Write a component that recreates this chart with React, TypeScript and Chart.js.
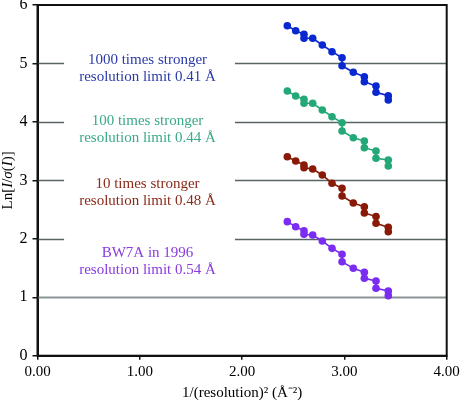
import React, { useEffect, useRef } from "react";
import { Chart, registerables } from "chart.js";

Chart.register(...registerables);

const xVals = [2.442, 2.524, 2.605, 2.605, 2.69, 2.784, 2.879, 2.977, 2.977, 3.087, 3.195, 3.195, 3.309, 3.309, 3.429, 3.429];
const blueVals = [5.646, 5.56, 5.499, 5.43, 5.43, 5.316, 5.201, 5.098, 4.961, 4.849, 4.773, 4.688, 4.614, 4.506, 4.448, 4.375];
const greenVals = [4.529, 4.443, 4.387, 4.318, 4.318, 4.204, 4.089, 3.986, 3.844, 3.73, 3.673, 3.559, 3.502, 3.377, 3.348, 3.245];
const redVals = [3.405, 3.331, 3.263, 3.216, 3.194, 3.092, 2.95, 2.864, 2.732, 2.612, 2.549, 2.441, 2.381, 2.265, 2.197, 2.121];
const purpleVals = [2.293, 2.207, 2.139, 2.077, 2.065, 1.962, 1.837, 1.735, 1.608, 1.495, 1.427, 1.324, 1.278, 1.153, 1.107, 1.027];

const seriesNames = ["1000 times stronger", "100 times stronger", "10 times stronger", "BW7A in 1996"];
const seriesLimits = ["resolution limit 0.41 Å", "resolution limit 0.44 Å", "resolution limit 0.48 Å", "resolution limit 0.54 Å"];
const seriesColors = ["#0a28d0", "#25a878", "#8a1a08", "#7a2cf0"];
const textColors = ["#2a3aa8", "#3aa88a", "#8a2a1a", "#8a3ae0"];
const xTicks = [0, 1, 2, 3, 4];
const yTicks = [0, 1, 2, 3, 4, 5, 6];
const xTitle = "1/(resolution)² (Å⁻²)";

const FONT = "'Liberation Serif', 'Times New Roman', serif";

export default function App() {
  const ref = useRef<HTMLCanvasElement | null>(null);
  useEffect(() => {
    document.body.style.margin = "0";
    const canvas = ref.current!;
    const allVals = [blueVals, greenVals, redVals, purpleVals];

    const overlay = {
      id: "overlay",
      beforeDatasetsDraw(chart: any) {
        const ctx = chart.ctx;
        const xs = chart.scales.x;
        const ys = chart.scales.y;
        const ca = chart.chartArea;
        ctx.save();
        const gapL = xs.getPixelForValue(0.26);
        const gapR = xs.getPixelForValue(1.93);
        [5, 4, 3, 2].forEach((v) => {
          const y = Math.round(ys.getPixelForValue(v)) + 0.5;
          ctx.strokeStyle = "#5a6464";
          ctx.lineWidth = 1.5;
          ctx.beginPath();
          ctx.moveTo(ca.left, y);
          ctx.lineTo(gapL, y);
          ctx.moveTo(gapR, y);
          ctx.lineTo(ca.right, y);
          ctx.stroke();
        });
        const y1 = Math.round(ys.getPixelForValue(1)) + 0.5;
        ctx.strokeStyle = "#8a9494";
        ctx.lineWidth = 2;
        ctx.beginPath();
        ctx.moveTo(ca.left, y1);
        ctx.lineTo(ca.right, y1);
        ctx.stroke();
        ctx.restore();
      },
      afterDraw(chart: any) {
        const ctx = chart.ctx;
        const xs = chart.scales.x;
        const ys = chart.scales.y;
        const ca = chart.chartArea;
        ctx.save();
        ctx.strokeStyle = "#111";
        ctx.lineWidth = 2;
        ctx.strokeRect(ca.left, ca.top, ca.right - ca.left, ca.bottom - ca.top);
        const cx = xs.getPixelForValue(1.075);
        const nameY = [5.05, 4.02, 2.94, 1.76];
        ctx.font = `15px ${FONT}`;
        ctx.textAlign = "center";
        ctx.textBaseline = "middle";
        for (let i = 0; i < 4; i++) {
          const y = ys.getPixelForValue(nameY[i]);
          ctx.fillStyle = textColors[i];
          ctx.fillText(seriesNames[i], cx, y);
          ctx.fillText(seriesLimits[i], cx, y + 17);
        }
        ctx.fillStyle = "#000";
        ctx.font = `15px ${FONT}`;
        ctx.fillText(xTitle, (ca.left + ca.right) / 2, 393);
        const parts: [string, boolean][] = [["Ln[", false], ["I", true], ["/", false], ["σ", true], ["(", false], ["I", true], [")]", false]];
        let total = 0;
        const widths = parts.map(([t, it]) => {
          ctx.font = `${it ? "italic " : ""}15px ${FONT}`;
          const w = ctx.measureText(t).width;
          total += w;
          return w;
        });
        ctx.translate(8, (ca.top + ca.bottom) / 2);
        ctx.rotate(-Math.PI / 2);
        ctx.textAlign = "left";
        let px = -total / 2;
        parts.forEach(([t, it], i) => {
          ctx.font = `${it ? "italic " : ""}15px ${FONT}`;
          ctx.fillText(t, px, 0);
          px += widths[i];
        });
        ctx.restore();
      },
    };

    const chart = new Chart(canvas, {
      type: "scatter",
      data: {
        datasets: allVals.map((vals, i) => ({
          label: seriesNames[i],
          data: xVals.map((x, j) => ({ x, y: vals[j] })),
          showLine: true,
          borderColor: seriesColors[i],
          backgroundColor: seriesColors[i],
          borderWidth: 1.6,
          pointRadius: 3.8,
          pointBorderWidth: 0,
        })),
      },
      options: {
        animation: false,
        responsive: false,
        maintainAspectRatio: false,
        layout: { padding: { top: 5, right: 13.3, left: 0, bottom: 0 } },
        plugins: { legend: { display: false }, tooltip: { enabled: false } },
        scales: {
          x: {
            type: "linear",
            min: 0,
            max: 4,
            afterBuildTicks: (s: any) => {
              s.ticks = xTicks.map((v) => ({ value: v }));
            },
            afterFit: (s: any) => {
              s.height = 45.3;
              s.paddingLeft = 0;
              s.paddingRight = 0;
            },
            grid: { drawOnChartArea: false, drawTicks: true, tickLength: 4, color: "#111", lineWidth: 1.5 },
            border: { display: true, color: "#111", width: 2 },
            ticks: {
              color: "#000",
              font: { family: FONT, size: 15 },
              padding: 3,
              maxRotation: 0,
              autoSkip: false,
              callback: (v: any) => Number(v).toFixed(2),
            },
          },
          y: {
            type: "linear",
            min: 0,
            max: 6,
            afterBuildTicks: (s: any) => {
              s.ticks = yTicks.map((v) => ({ value: v }));
            },
            afterFit: (s: any) => {
              s.width = 37.5;
              s.paddingTop = 0;
              s.paddingBottom = 0;
            },
            grid: { drawOnChartArea: false, drawTicks: true, tickLength: 5, color: "#111", lineWidth: 1.5 },
            border: { display: true, color: "#111", width: 2 },
            ticks: {
              color: "#000",
              font: { family: FONT, size: 16 },
              padding: 5,
              autoSkip: false,
              callback: (v: any) => String(v),
            },
          },
        },
      },
      plugins: [overlay],
    });
    return () => chart.destroy();
  }, []);
  return <canvas ref={ref} width={460} height={401} style={{ display: "block", width: 460, height: 401 }} />;
}
